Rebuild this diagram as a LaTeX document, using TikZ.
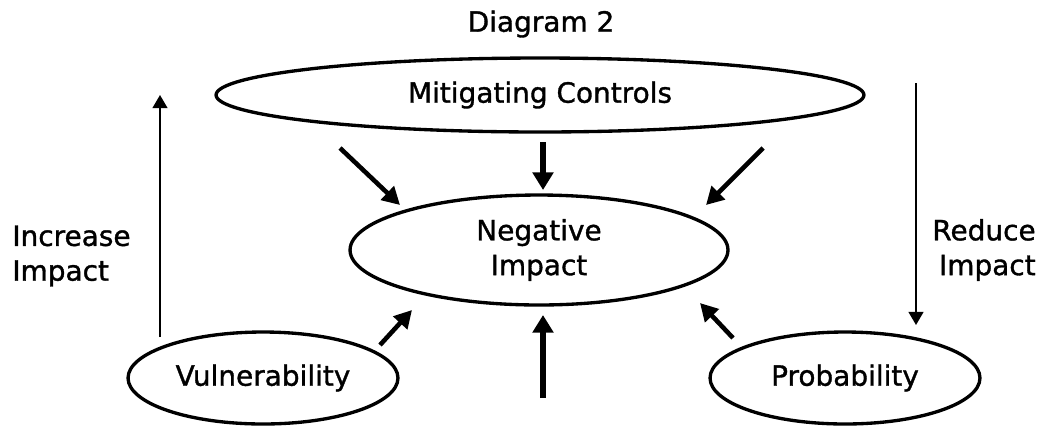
\documentclass[tikz,border=0pt]{standalone}
\usepackage{fontspec}
\setmainfont{DejaVu Sans}[FakeBold=1.2]
\usepackage{tikz}
\usetikzlibrary{shapes.geometric, arrows.meta, positioning}
\tikzset{
    oval/.style={ellipse, draw=black, line width=1.9pt, inner sep=0pt,
                 align=center},
    thinarrow/.style={-{Triangle[length=7.5pt, width=8.5pt]}, line width=1pt},
    arrow/.style={-{Triangle[length=10pt, width=10.5pt]}, line width=2.6pt},
    fatarrow/.style={-{Triangle[length=10pt, width=11.5pt]}, line width=3.4pt},
    sidelbl/.style={inner sep=0pt},
}
\begin{document}
\begin{tikzpicture}[x=0.02cm, y=-0.02cm, font=\fontsize{15.9pt}{19.8pt}\selectfont]
    \useasboundingbox (0,0) rectangle (1043,427);
    \node (title) at (541,24) {Diagram 2};
    \node[oval, minimum width=12.96cm, minimum height=1.48cm] (mit) at (540,95) {Mitigating Controls};
    \node[oval, minimum width=7.56cm, minimum height=2.2cm] (neg) at (539,250) {Negative\\Impact};
    \node[oval, minimum width=5.4cm, minimum height=1.84cm] (vul) at (263,378) {Vulnerability};
    \node[oval, minimum width=5.4cm, minimum height=1.84cm] (prob) at (845,378) {Probability};
    \node[sidelbl, anchor=west, align=left] (inc) at (12,256) {Increase\\Impact};
    \node[sidelbl, anchor=east, align=right] (red) at (1036,250) {Reduce\\Impact};
    % free ends of the arrows
    \coordinate (mitsw) at (340,148);
    \coordinate (negnw) at (400,205);
    \coordinate (mitse) at (763,148);
    \coordinate (negne) at (706,205);
    \coordinate (vulne) at (380,345);
    \coordinate (negsw) at (412,310);
    \coordinate (probnw) at (733,338);
    \coordinate (negse) at (700,303);
    \coordinate (below) at (543,398);
    \coordinate (negs) at (543,315);
    \coordinate (mits) at (543,142);
    \coordinate (negn) at (543,190);
    \coordinate (incbot) at (160,337);
    \coordinate (inctop) at (160,95);
    \coordinate (redtop) at (916,83);
    \coordinate (redbot) at (916,325);
    \draw[arrow] (mitsw) -- (negnw);
    \draw[fatarrow] (mits) -- (negn);
    \draw[arrow] (mitse) -- (negne);
    \draw[arrow] (vulne) -- (negsw);
    \draw[fatarrow] (below) -- (negs);
    \draw[arrow] (probnw) -- (negse);
    \draw[thinarrow] (incbot) -- (inctop);
    \draw[thinarrow] (redtop) -- (redbot);
\end{tikzpicture}
\end{document}
